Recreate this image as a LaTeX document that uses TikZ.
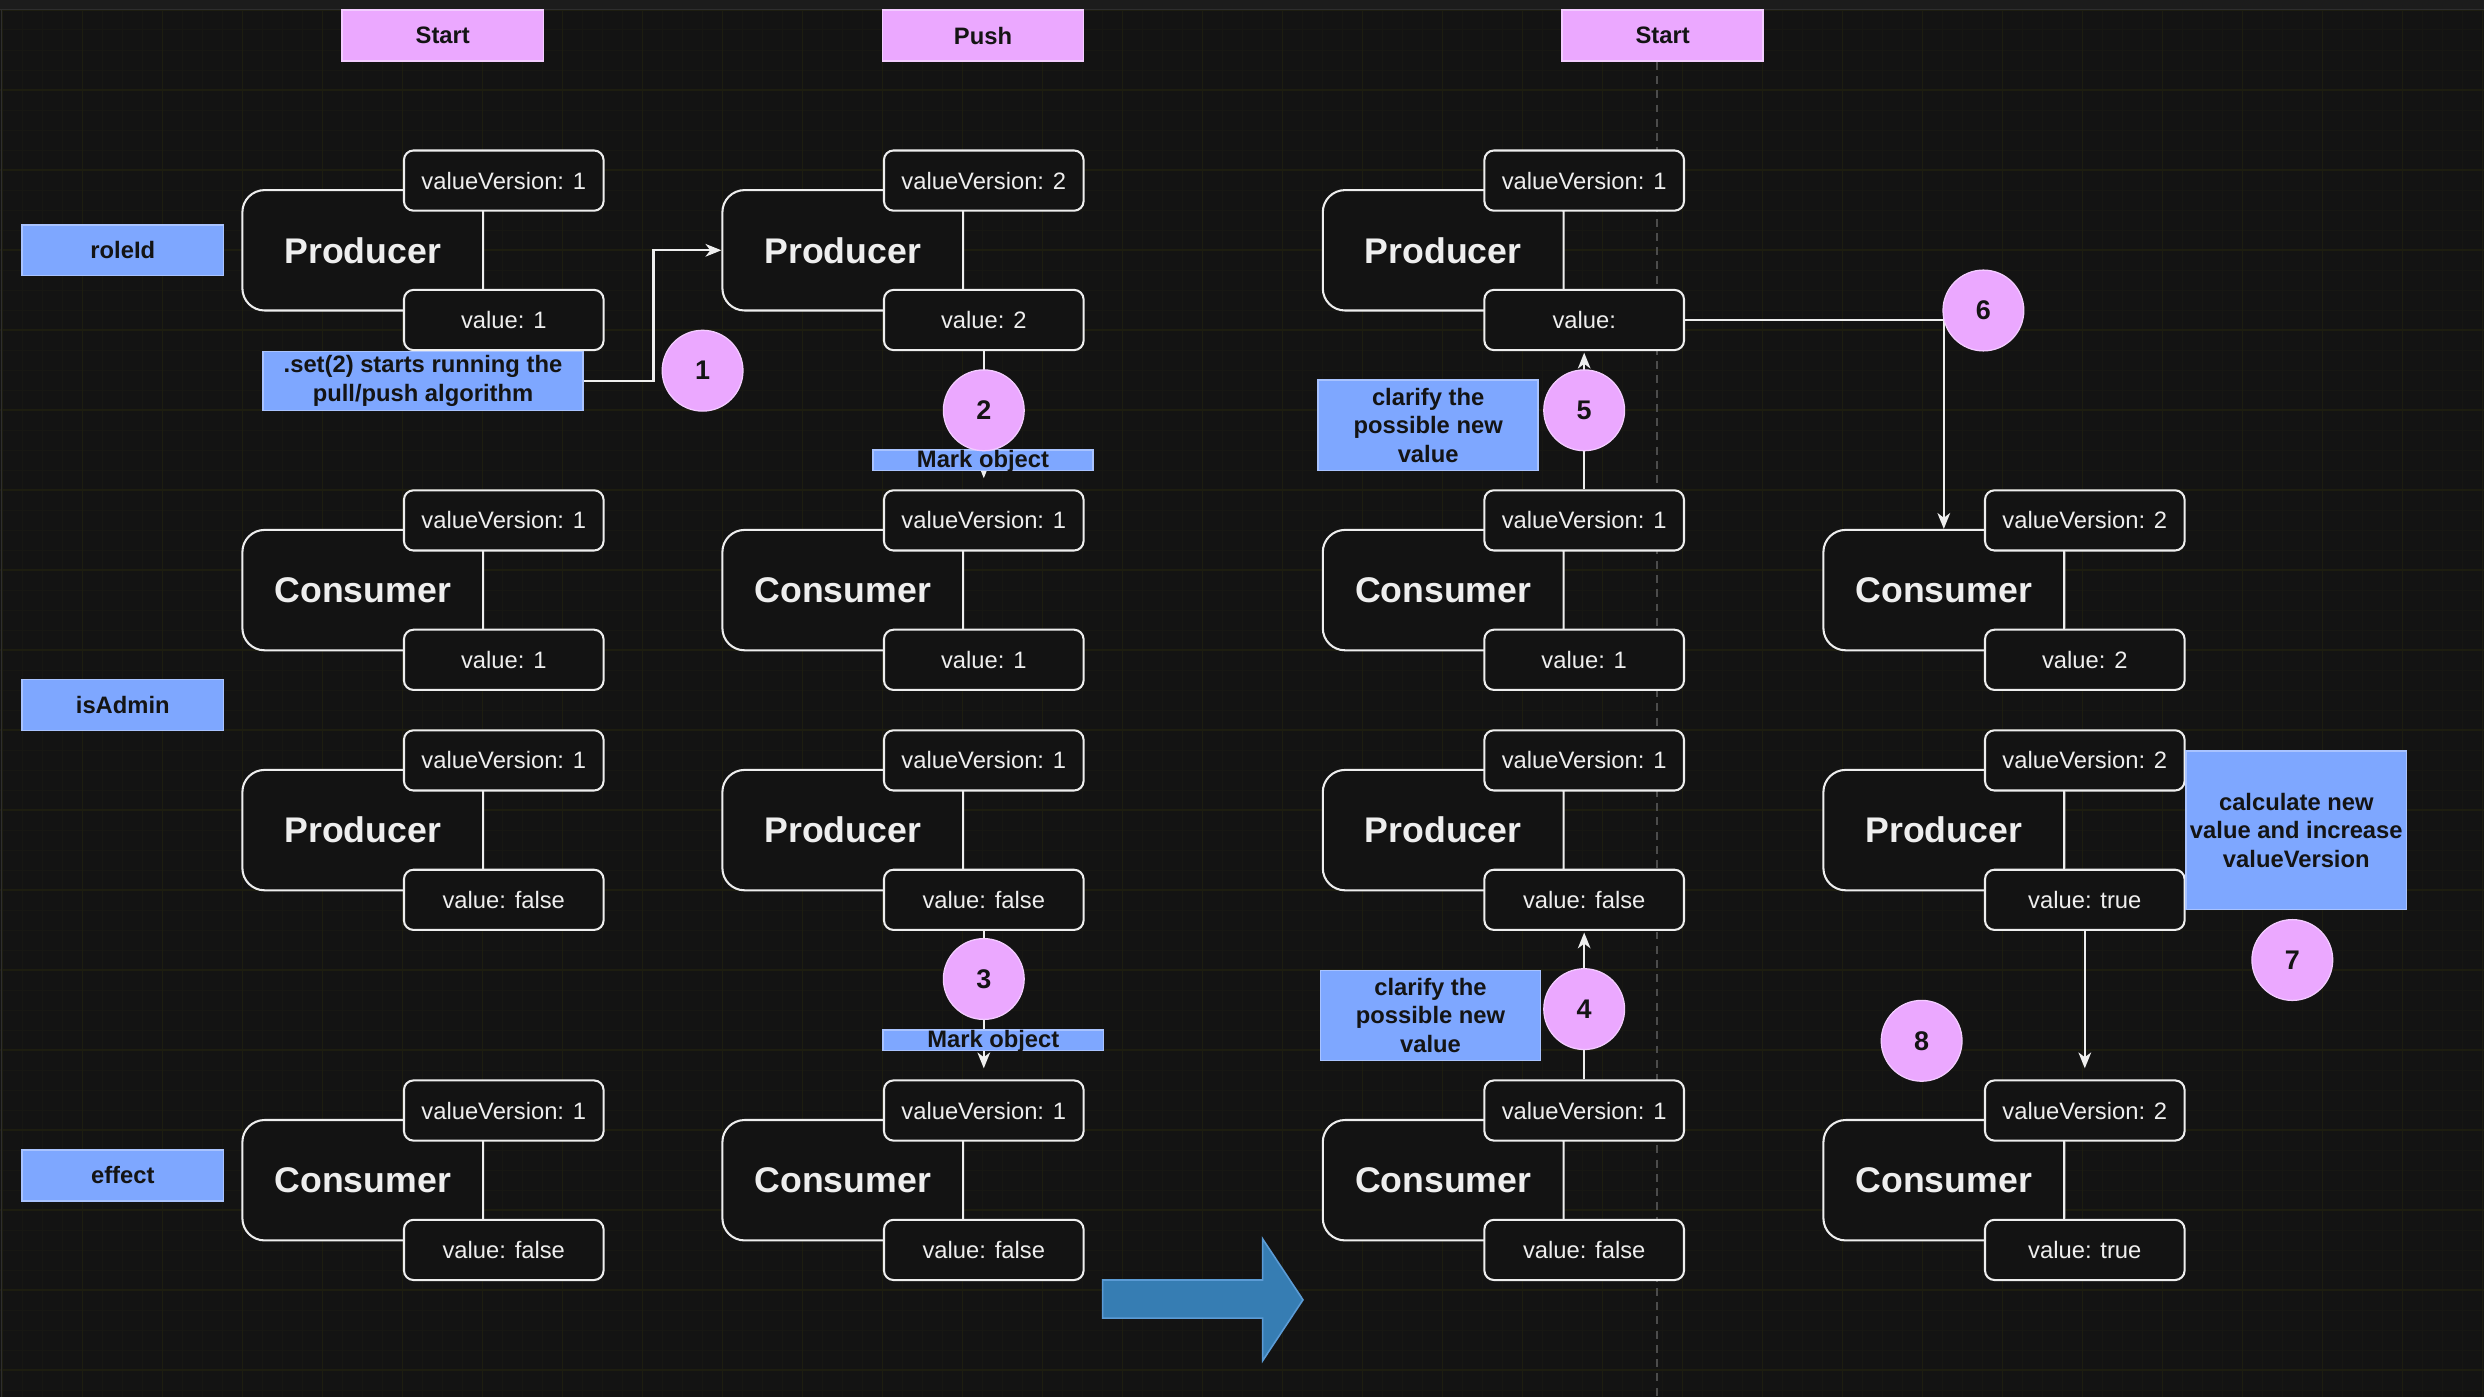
\documentclass[tikz,border=0pt]{standalone}
\usepackage{fontspec}
\setmainfont{Liberation Sans}
\usetikzlibrary{arrows.meta,calc}

\definecolor{bg}{HTML}{131313}
\definecolor{topbar}{HTML}{1C1C1C}
\definecolor{topline}{HTML}{2E2E2E}
\definecolor{fg}{HTML}{EEEEEE}
\definecolor{pinkc}{HTML}{EBA8FF}
\definecolor{pinkb}{HTML}{F3CCFF}
\definecolor{bluec}{HTML}{7EA7FF}
\definecolor{blueb}{HTML}{A9C3FF}
\definecolor{gridmaj}{HTML}{1D1D10}
\definecolor{gridmin}{HTML}{171713}
\definecolor{bigarrow}{HTML}{367DB3}
\definecolor{bigarrowb}{HTML}{5B9BD5}
\definecolor{dashgray}{HTML}{4C4C4C}
\definecolor{ink}{HTML}{141414}

\newcommand\entity[6]{%
  \node[mainbox] (#1) at (#2,#3) {#4};
  \node[fieldbox] (#1-vv) at ($(#1.center)+(89,-44)$) {#5};
  \node[fieldbox] (#1-v) at ($(#1.center)+(89,44)$) {#6};
}

\begin{document}
\begin{tikzpicture}[x=1pt,y=-1pt,
  mainbox/.style={draw=fg, line width=1.3pt, rounded corners=14pt, fill=bg,
    minimum width=152pt, minimum height=76pt, inner sep=0pt, text=fg,
    font=\fontsize{22.5}{26}\selectfont\bfseries},
  fieldbox/.style={draw=fg, line width=1.3pt, rounded corners=6pt, fill=bg,
    minimum width=126pt, minimum height=38pt, inner sep=0pt, text=fg,
    font=\fontsize{15}{18}\selectfont},
  header/.style={fill=pinkc, draw=pinkb, line width=1pt, minimum width=127pt,
    minimum height=32pt, inner sep=0pt, text=ink,
    font=\fontsize{15}{18}\selectfont\bfseries},
  tag/.style={fill=bluec, draw=blueb, line width=1pt, inner sep=0pt, text=ink,
    align=center, font=\fontsize{15}{18}\selectfont\bfseries},
  marktag/.style={tag, minimum width=139pt, text height=11.3pt, text depth=1.7pt},
  num/.style={circle, fill=pinkc, draw=pinkb, line width=0.8pt, minimum size=51pt,
    inner sep=0pt, text=ink, font=\fontsize{17}{20}\selectfont\bfseries},
  conn/.style={draw=fg, line width=1.3pt},
  arr/.style={conn, -{Stealth[length=10pt,width=8pt,inset=3pt]}},
]
\useasboundingbox (0,0) rectangle (1568,882);
\fill[bg] (0,0) rectangle (1568,882);

% grid
\foreach \i in {0,...,124} \draw[gridmin, line width=0.6pt] ({1.7+\i*12.626},6) -- ({1.7+\i*12.626},882);
\foreach \j in {0,...,69} \draw[gridmin, line width=0.6pt] (0,{6.3+\j*12.626}) -- (1568,{6.3+\j*12.626});
\foreach \i in {0,...,31} \draw[gridmaj, line width=0.8pt] ({1.7+\i*50.5},6) -- ({1.7+\i*50.5},882);
\foreach \j in {0,...,17} \draw[gridmaj, line width=0.8pt] (0,{6.3+\j*50.5}) -- (1568,{6.3+\j*50.5});

% top bar
\fill[topbar] (0,0) rectangle (1568,6);
\draw[topline, line width=0.8pt] (0,6) -- (1568,6);
\draw[topline, line width=0.8pt] (1,6) -- (1,882);

% headers
\node[header] (h1) at (279.5,22.5) {Start};
\node[header] (h2) at (620.5,22.5) {Push};
\node[header] (h3) at (1049.5,22.5) {Start};

% dashed separator
\draw[dashgray, line width=1pt, dash pattern=on 5pt off 4pt] ([xshift=-3.7pt]h3.south) -- ++(0,850);

% row tags
\node[tag, minimum width=127pt, minimum height=32pt] (t1) at (77.5,158) {roleId};
\node[tag, minimum width=127pt, minimum height=32pt] (t2) at (77.5,445) {isAdmin};
\node[tag, minimum width=127pt, minimum height=32pt] (t3) at (77.5,742) {effect};

% column 1
\entity{p1}{229}{158}{Producer}{valueVersion: 1}{value: 1}
\entity{c1}{229}{372.5}{Consumer}{valueVersion: 1}{value: 1}
\entity{q1}{229}{524}{Producer}{valueVersion: 1}{value: false}
\entity{e1}{229}{745}{Consumer}{valueVersion: 1}{value: false}
% column 2
\entity{p2}{532}{158}{Producer}{valueVersion: 2}{value: 2}
\entity{c2}{532}{372.5}{Consumer}{valueVersion: 1}{value: 1}
\entity{q2}{532}{524}{Producer}{valueVersion: 1}{value: false}
\entity{e2}{532}{745}{Consumer}{valueVersion: 1}{value: false}
% column 3
\entity{p3}{911}{158}{Producer}{valueVersion: 1}{value:}
\entity{c3}{911}{372.5}{Consumer}{valueVersion: 1}{value: 1}
\entity{q3}{911}{524}{Producer}{valueVersion: 1}{value: false}
\entity{e3}{911}{745}{Consumer}{valueVersion: 1}{value: false}
% column 4
\entity{c4}{1227}{372.5}{Consumer}{valueVersion: 2}{value: 2}
\entity{q4}{1227}{524}{Producer}{valueVersion: 2}{value: true}
\entity{e4}{1227}{745}{Consumer}{valueVersion: 2}{value: true}

% annotation boxes
\node[tag, minimum width=202pt, minimum height=37pt] (l1) at (267,240.5) {.set(2) starts running the\\pull/push algorithm};

% connectors
\draw[arr] (l1.east) -- ++(44,0) |- (p2.west);
\draw[arr, shorten >=7pt] (p2-v.south) -- (c2-vv.north);
\draw[arr, shorten >=7pt] (q2-v.south) -- (e2-vv.north);
\draw[arr, shorten >=1pt] (c3-vv.north) -- (p3-v.south);
\draw[arr, shorten >=1pt] (e3-vv.north) -- (q3-v.south);
\draw[arr] (p3-v.east) -| (c4.north);
\draw[arr, shorten >=7pt] (q4-v.south) -- (e4-vv.north);

% big arrow
\draw[fill=bigarrow, draw=bigarrowb, line width=1pt]
  (696,808) -- (797,808) -- (797,782) -- (822.5,820.5) -- (797,859) -- (797,832) -- (696,832) -- cycle;

% labels over connectors
\node[marktag] (m1) at (620.5,290.5) {Mark object};
\node[marktag] (m2) at (627,656.5) {Mark object};
\node[tag, minimum width=139pt, minimum height=57pt] (l5) at (901.5,268.5) {clarify the\\possible new\\value};
\node[tag, minimum width=139pt, minimum height=57pt] (l4) at (903,641) {clarify the\\possible new\\value};
\node[tag, minimum width=139pt, minimum height=100pt] (l7) at (1449.5,524) {calculate new\\value and increase\\valueVersion};

% step numbers
\node[num] (n1) at (443.5,234) {1};
\node[num] (n2) at (621,259) {2};
\node[num] (n3) at (621,618) {3};
\node[num] (n4) at (1000,637) {4};
\node[num] (n5) at (1000,259) {5};
\node[num] (n6) at (1252,196) {6};
\node[num] (n7) at (1447,606) {7};
\node[num] (n8) at (1213,657) {8};
\end{tikzpicture}
\end{document}
